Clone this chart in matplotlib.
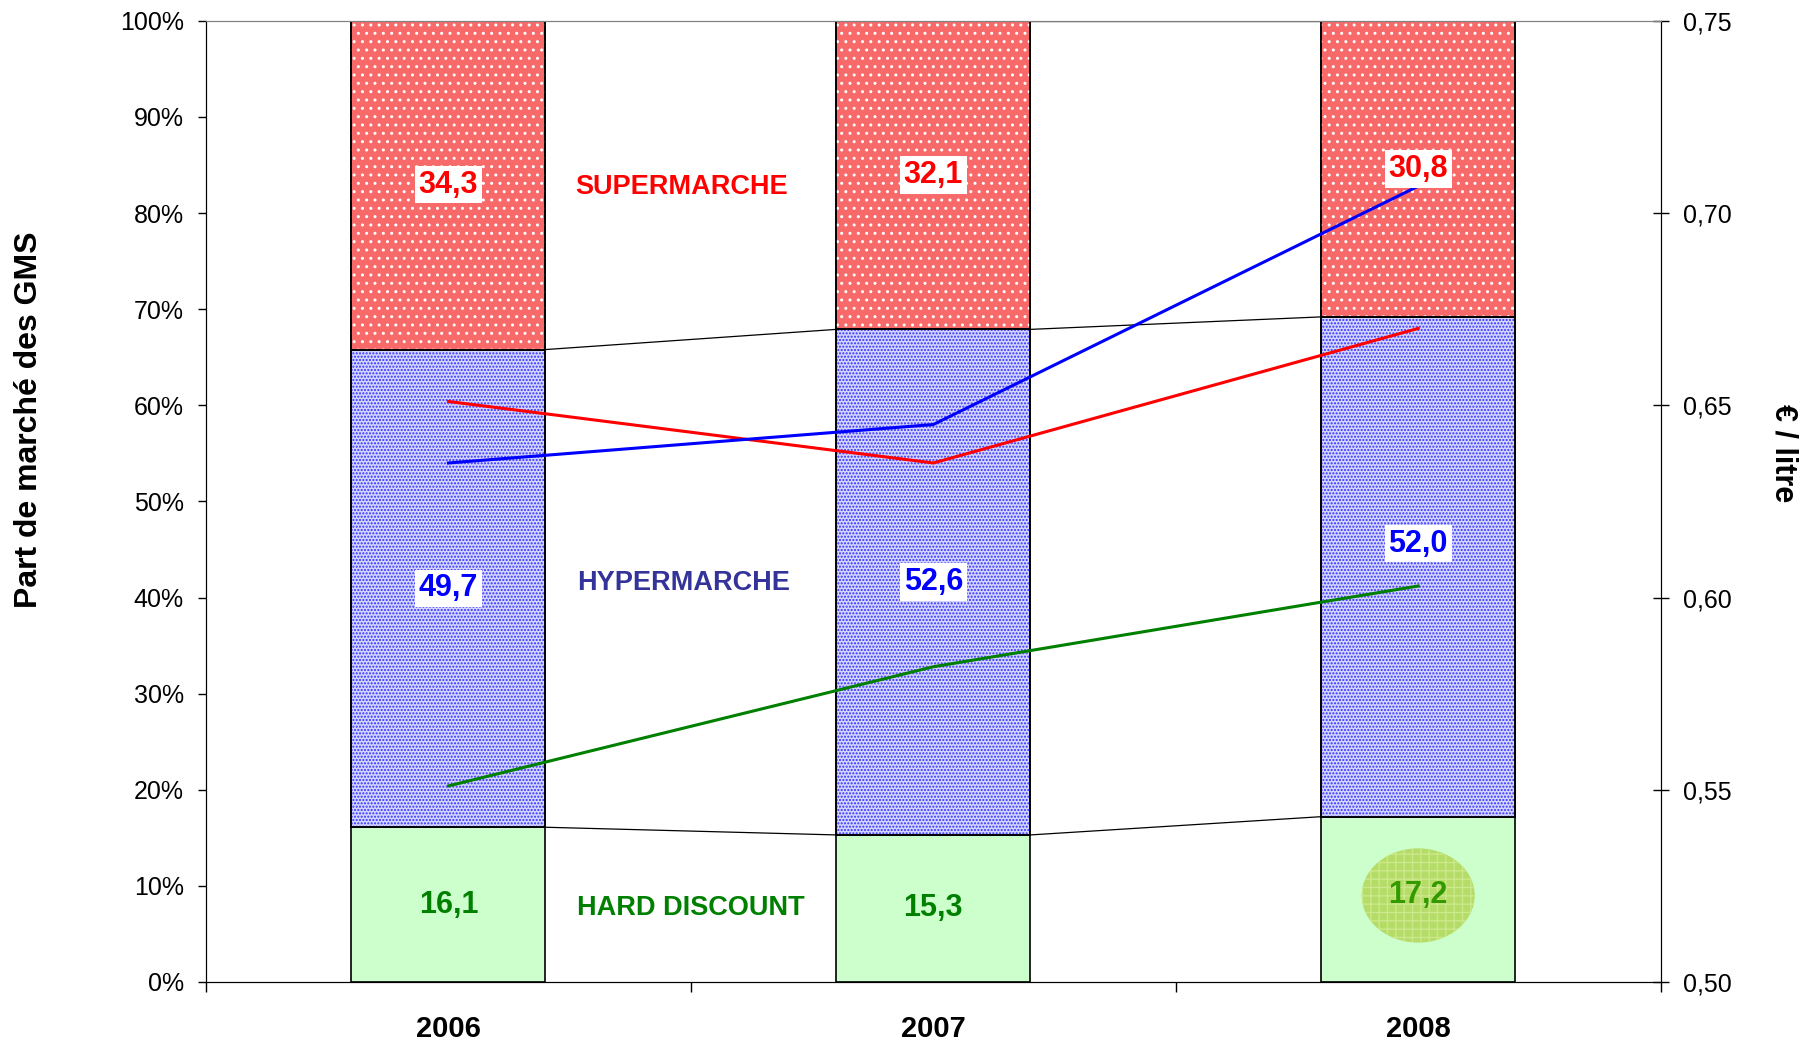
import matplotlib
matplotlib.use('Agg')
import matplotlib.pyplot as plt
from matplotlib.patches import Ellipse
from matplotlib.ticker import FuncFormatter
import numpy as np

plt.rcParams['font.family'] = ['Liberation Sans', 'DejaVu Sans']

# Données
annees = ['2006', '2007', '2008']
hard_discount = [16.1, 15.3, 17.2]
hypermarche = [49.7, 52.6, 52.0]
supermarche = [34.3, 32.1, 30.8]

prix_super = [0.651, 0.635, 0.670]
prix_hyper = [0.635, 0.645, 0.707]
prix_hd = [0.551, 0.582, 0.603]

x = np.arange(len(annees))
w = 0.4

fig = plt.figure(figsize=(18.07, 10.43), dpi=100)
ax = fig.add_axes([0.114, 0.0585, 0.805, 0.9215])

bas_hyper = np.array(hard_discount)
bas_super = bas_hyper + np.array(hypermarche)
haut = bas_super + np.array(supermarche)

# barres : fond puis motif
ax.bar(x, hard_discount, w, color='#ccffcc', edgecolor='black', lw=1.2, zorder=2)
ax.bar(x, hypermarche, w, bottom=bas_hyper, color='#d4d4ff', edgecolor='black', lw=1.2, zorder=2)
ax.bar(x, hypermarche, w, bottom=bas_hyper, color='none', edgecolor='#3030ff', lw=0, hatch='.....', zorder=3)
ax.bar(x, supermarche, w, bottom=bas_super, color='#f86a6a', edgecolor='black', lw=1.2, zorder=2)
ax.bar(x, supermarche, w, bottom=bas_super, color='none', edgecolor='white', lw=0, hatch='..', zorder=3)
ax.bar(x, supermarche, w, bottom=bas_super, color='none', edgecolor='black', lw=1.2, zorder=4)
ax.bar(x, hypermarche, w, bottom=bas_hyper, color='none', edgecolor='black', lw=1.2, zorder=4)

# traits de liaison entre les barres
for niveau in [bas_hyper, bas_super, haut]:
    for i in range(len(x) - 1):
        ax.plot([x[i] + w / 2, x[i + 1] - w / 2], [niveau[i], niveau[i + 1]],
                color='black', lw=0.9, zorder=1)

ax.set_xlim(-0.5, 2.5)
ax.set_ylim(0, 100)
ax.set_yticks(np.arange(0, 101, 10))
ax.yaxis.set_major_formatter(FuncFormatter(lambda v, p: f'{v:.0f}%'))
ax.tick_params(axis='y', labelsize=18, length=6, width=1, pad=10)
ax.set_xticks([-0.5, 0.5, 1.5, 2.5])
ax.set_xticklabels([])
ax.tick_params(axis='x', which='major', length=7, width=1, direction='out')
ax.set_xticks(x, minor=True)
ax.set_xticklabels(annees, minor=True, fontsize=21, fontweight='bold')
ax.tick_params(axis='x', which='minor', length=0, pad=24)
ax.spines['top'].set_color('#808080')

ax2 = ax.twinx()
ax2.set_ylim(0.5, 0.75)
ax2.set_yticks(np.arange(0.5, 0.751, 0.05))
ax2.yaxis.set_major_formatter(FuncFormatter(lambda v, p: f'{v:.2f}'.replace('.', ',')))
ax2.tick_params(axis='y', labelsize=18, length=12, width=1, direction='inout', pad=10)
ax2.spines['top'].set_color('#808080')

ax2.plot(x, prix_super, color='#ff0000', lw=2.2, zorder=5)
ax2.plot(x, prix_hyper, color='#0000ff', lw=2.2, zorder=5)
ax2.plot(x, prix_hd, color='#008000', lw=2.2, zorder=5)

# étiquettes de valeurs
tr = ax.transData
boite = dict(boxstyle='square,pad=0.12', fc='white', ec='none')
for i in range(len(x)):
    ax2.text(x[i], bas_super[i] + supermarche[i] / 2, f'{supermarche[i]:.1f}'.replace('.', ','),
             transform=tr, ha='center', va='center', fontsize=22, fontweight='bold',
             color='#ff0000', bbox=boite, zorder=10)
    dy = 2.4 if i == 2 else 0
    ax2.text(x[i], bas_hyper[i] + hypermarche[i] / 2 + dy, f'{hypermarche[i]:.1f}'.replace('.', ','),
             transform=tr, ha='center', va='center', fontsize=22, fontweight='bold',
             color='#0000ff', bbox=boite, zorder=10)

ell = Ellipse((2, 9.0), 0.233, 9.8, facecolor='#b4dc66', edgecolor='#cce88c', lw=0,
              hatch='++', zorder=6)
ax.add_patch(ell)
for i in range(len(x)):
    dy = 0.4 if i == 2 else 0
    ax2.text(x[i], hard_discount[i] / 2 + dy, f'{hard_discount[i]:.1f}'.replace('.', ','),
             transform=tr, ha='center', va='center', fontsize=22, fontweight='bold',
             color='#339900' if i == 2 else '#008000', zorder=10)

# noms des circuits
ax2.text(0.48, 82.7, 'SUPERMARCHE', transform=tr, ha='center', va='center',
         fontsize=19.5, fontweight='bold', color='#ff0000')
ax2.text(0.485, 41.5, 'HYPERMARCHE', transform=tr, ha='center', va='center',
         fontsize=19.5, fontweight='bold', color='#333399')
ax2.text(0.5, 7.7, 'HARD DISCOUNT', transform=tr, ha='center', va='center',
         fontsize=19.5, fontweight='bold', color='#008000')

fig.text(0.016, 0.598, 'Part de marché des GMS', rotation=90, ha='center', va='center',
         fontsize=23, fontweight='bold')
fig.text(0.987, 0.566, '€ / litre', rotation=-90, ha='center', va='center',
         fontsize=22, fontweight='bold')

plt.savefig('out.png', dpi=100)
